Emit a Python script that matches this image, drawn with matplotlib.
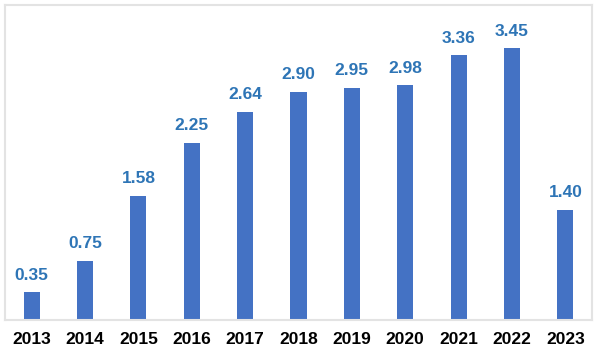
import matplotlib
matplotlib.use('Agg')
import matplotlib.pyplot as plt

plt.rcParams['font.family'] = ['Liberation Sans', 'DejaVu Sans']

# 数据
years = ['2013', '2014', '2015', '2016', '2017', '2018',
         '2019', '2020', '2021', '2022', '2023']
values = [0.35, 0.75, 1.58, 2.25, 2.64, 2.90, 2.95, 2.98, 3.36, 3.45, 1.40]

bar_color = '#4472C4'
label_color = '#2E75B6'
frame_color = '#E3E3E3'

fig = plt.figure(figsize=(5.97, 3.53), dpi=100)
ax = fig.add_axes([5 / 597, 33 / 353, 587 / 597, 315 / 353])

x = range(len(years))
bars = ax.bar(x, values, width=0.3, color=bar_color)

# 数值标签
for xi, v in zip(x, values):
    ax.annotate(f'{v:.2f}', (xi, v), xytext=(0, 7), textcoords='offset points',
                ha='center', va='bottom', fontsize=12.5, fontweight='bold',
                color=label_color)

ax.set_xlim(-0.5, len(years) - 0.5)
ax.set_ylim(0, 4.0)
ax.set_xticks(list(x))
ax.set_xticklabels(years, fontsize=12.5, fontweight='bold', color='black')
ax.tick_params(axis='x', length=0, pad=9)
ax.set_yticks([])

for side in ['left', 'right', 'top', 'bottom']:
    ax.spines[side].set_color(frame_color)
    ax.spines[side].set_linewidth(1.5)

fig.savefig('out.png', dpi=100, facecolor='white')
